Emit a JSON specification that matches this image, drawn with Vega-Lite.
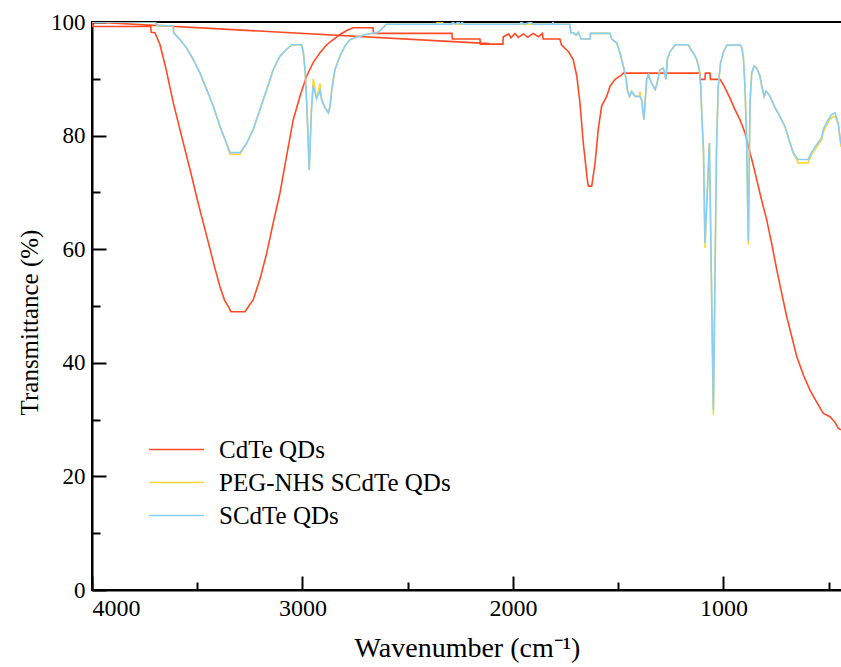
{
 "$schema": "https://vega.github.io/schema/vega-lite/v6.json",
 "width": 750, "height": 568,
 "autosize": "none",
 "padding": {"left": 92, "top": 22, "right": 0, "bottom": 77},
 "background": "white",
 "config": {"font": "Liberation Serif", "view": {"stroke": "black", "strokeWidth": 2}, "axis": {"labelFont": "Liberation Serif", "titleFont": "Liberation Serif"}, "legend": {"labelFont": "Liberation Serif"}},
 "data": {"values": [
{"s":"CdTe QDs","w":2110,"t":96.2},{"s":"CdTe QDs","w":4000,"t":100},{"s":"CdTe QDs","w":3996,"t":99.2},{"s":"CdTe QDs","w":3721,"t":99.2},{"s":"CdTe QDs","w":3719,"t":98.2},{"s":"CdTe QDs","w":3701,"t":98.1},{"s":"CdTe QDs","w":3677,"t":96},{"s":"CdTe QDs","w":3650,"t":92},{"s":"CdTe QDs","w":3614,"t":85.8},{"s":"CdTe QDs","w":3575,"t":80},{"s":"CdTe QDs","w":3534,"t":74},{"s":"CdTe QDs","w":3495,"t":68},{"s":"CdTe QDs","w":3455,"t":62.3},{"s":"CdTe QDs","w":3420,"t":57.2},{"s":"CdTe QDs","w":3392,"t":53.4},{"s":"CdTe QDs","w":3370,"t":51},{"s":"CdTe QDs","w":3352,"t":49.9},{"s":"CdTe QDs","w":3340,"t":49},{"s":"CdTe QDs","w":3273,"t":49},{"s":"CdTe QDs","w":3255,"t":50},{"s":"CdTe QDs","w":3234,"t":51.1},{"s":"CdTe QDs","w":3200,"t":55},{"s":"CdTe QDs","w":3170,"t":59.3},{"s":"CdTe QDs","w":3140,"t":64.5},{"s":"CdTe QDs","w":3107,"t":69.9},{"s":"CdTe QDs","w":3075,"t":76.5},{"s":"CdTe QDs","w":3044,"t":82.8},{"s":"CdTe QDs","w":3010,"t":87.2},{"s":"CdTe QDs","w":2980,"t":90.5},{"s":"CdTe QDs","w":2950,"t":92.8},{"s":"CdTe QDs","w":2917,"t":94.6},{"s":"CdTe QDs","w":2885,"t":96},{"s":"CdTe QDs","w":2854,"t":96.9},{"s":"CdTe QDs","w":2822,"t":97.8},{"s":"CdTe QDs","w":2790,"t":98.5},{"s":"CdTe QDs","w":2760,"t":99},{"s":"CdTe QDs","w":2665,"t":99},{"s":"CdTe QDs","w":2663,"t":98},{"s":"CdTe QDs","w":2290,"t":98},{"s":"CdTe QDs","w":2288,"t":97},{"s":"CdTe QDs","w":2157,"t":97},{"s":"CdTe QDs","w":2155,"t":96.1},{"s":"CdTe QDs","w":2048,"t":96.1},{"s":"CdTe QDs","w":2046,"t":97.4},{"s":"CdTe QDs","w":2020,"t":97.9},{"s":"CdTe QDs","w":2010,"t":97.2},{"s":"CdTe QDs","w":1990,"t":98},{"s":"CdTe QDs","w":1975,"t":97.3},{"s":"CdTe QDs","w":1950,"t":97.9},{"s":"CdTe QDs","w":1930,"t":97.3},{"s":"CdTe QDs","w":1905,"t":98},{"s":"CdTe QDs","w":1880,"t":97.4},{"s":"CdTe QDs","w":1860,"t":98},{"s":"CdTe QDs","w":1857,"t":97},{"s":"CdTe QDs","w":1777,"t":97},{"s":"CdTe QDs","w":1770,"t":96},{"s":"CdTe QDs","w":1737,"t":94.8},{"s":"CdTe QDs","w":1714,"t":93.4},{"s":"CdTe QDs","w":1697,"t":90.5},{"s":"CdTe QDs","w":1682,"t":85.8},{"s":"CdTe QDs","w":1666,"t":78.7},{"s":"CdTe QDs","w":1647,"t":72.2},{"s":"CdTe QDs","w":1642,"t":71.1},{"s":"CdTe QDs","w":1626,"t":71.1},{"s":"CdTe QDs","w":1610,"t":75.2},{"s":"CdTe QDs","w":1595,"t":81.1},{"s":"CdTe QDs","w":1579,"t":85.2},{"s":"CdTe QDs","w":1555,"t":86.9},{"s":"CdTe QDs","w":1539,"t":88.7},{"s":"CdTe QDs","w":1515,"t":89.9},{"s":"CdTe QDs","w":1484,"t":90.7},{"s":"CdTe QDs","w":1476,"t":91},{"s":"CdTe QDs","w":1112,"t":91},{"s":"CdTe QDs","w":1110,"t":89.9},{"s":"CdTe QDs","w":1088,"t":89.9},{"s":"CdTe QDs","w":1086,"t":91},{"s":"CdTe QDs","w":1064,"t":91},{"s":"CdTe QDs","w":1062,"t":89.9},{"s":"CdTe QDs","w":1017,"t":89.9},{"s":"CdTe QDs","w":1001,"t":89},{"s":"CdTe QDs","w":985,"t":87.8},{"s":"CdTe QDs","w":969,"t":86.6},{"s":"CdTe QDs","w":946,"t":84.6},{"s":"CdTe QDs","w":922,"t":82.8},{"s":"CdTe QDs","w":898,"t":80.5},{"s":"CdTe QDs","w":882,"t":78.1},{"s":"CdTe QDs","w":862,"t":75.3},{"s":"CdTe QDs","w":842,"t":72.2},{"s":"CdTe QDs","w":820,"t":68.8},{"s":"CdTe QDs","w":795,"t":65.2},{"s":"CdTe QDs","w":770,"t":60.8},{"s":"CdTe QDs","w":747,"t":56.4},{"s":"CdTe QDs","w":722,"t":52},{"s":"CdTe QDs","w":700,"t":48.2},{"s":"CdTe QDs","w":675,"t":44.5},{"s":"CdTe QDs","w":652,"t":41.1},{"s":"CdTe QDs","w":620,"t":37.8},{"s":"CdTe QDs","w":589,"t":35.2},{"s":"CdTe QDs","w":556,"t":33},{"s":"CdTe QDs","w":526,"t":31.1},{"s":"CdTe QDs","w":494,"t":30.5},{"s":"CdTe QDs","w":470,"t":29.5},{"s":"CdTe QDs","w":455,"t":28.5},{"s":"CdTe QDs","w":442,"t":28.2},
{"s":"PEG-NHS SCdTe QDs","w":4000,"t":100},{"s":"PEG-NHS SCdTe QDs","w":3700,"t":100},{"s":"PEG-NHS SCdTe QDs","w":3690,"t":99.4},{"s":"PEG-NHS SCdTe QDs","w":3614,"t":99.3},{"s":"PEG-NHS SCdTe QDs","w":3612,"t":98.1},{"s":"PEG-NHS SCdTe QDs","w":3582,"t":96.9},{"s":"PEG-NHS SCdTe QDs","w":3550,"t":95.4},{"s":"PEG-NHS SCdTe QDs","w":3519,"t":93.4},{"s":"PEG-NHS SCdTe QDs","w":3487,"t":91},{"s":"PEG-NHS SCdTe QDs","w":3455,"t":88.1},{"s":"PEG-NHS SCdTe QDs","w":3424,"t":85.2},{"s":"PEG-NHS SCdTe QDs","w":3392,"t":81.6},{"s":"PEG-NHS SCdTe QDs","w":3368,"t":79.3},{"s":"PEG-NHS SCdTe QDs","w":3344,"t":76.7},{"s":"PEG-NHS SCdTe QDs","w":3297,"t":76.7},{"s":"PEG-NHS SCdTe QDs","w":3265,"t":78.7},{"s":"PEG-NHS SCdTe QDs","w":3234,"t":81.1},{"s":"PEG-NHS SCdTe QDs","w":3202,"t":84.6},{"s":"PEG-NHS SCdTe QDs","w":3170,"t":88.1},{"s":"PEG-NHS SCdTe QDs","w":3139,"t":91.6},{"s":"PEG-NHS SCdTe QDs","w":3107,"t":94},{"s":"PEG-NHS SCdTe QDs","w":3075,"t":95.2},{"s":"PEG-NHS SCdTe QDs","w":3051,"t":96},{"s":"PEG-NHS SCdTe QDs","w":3004,"t":96},{"s":"PEG-NHS SCdTe QDs","w":2996,"t":94.6},{"s":"PEG-NHS SCdTe QDs","w":2988,"t":91.6},{"s":"PEG-NHS SCdTe QDs","w":2980,"t":85.8},{"s":"PEG-NHS SCdTe QDs","w":2968,"t":74},{"s":"PEG-NHS SCdTe QDs","w":2958,"t":84.5},{"s":"PEG-NHS SCdTe QDs","w":2949,"t":90},{"s":"PEG-NHS SCdTe QDs","w":2933,"t":86.5},{"s":"PEG-NHS SCdTe QDs","w":2917,"t":89.2},{"s":"PEG-NHS SCdTe QDs","w":2909,"t":86.3},{"s":"PEG-NHS SCdTe QDs","w":2893,"t":84.9},{"s":"PEG-NHS SCdTe QDs","w":2877,"t":84},{"s":"PEG-NHS SCdTe QDs","w":2869,"t":85.2},{"s":"PEG-NHS SCdTe QDs","w":2861,"t":88.1},{"s":"PEG-NHS SCdTe QDs","w":2846,"t":91.6},{"s":"PEG-NHS SCdTe QDs","w":2822,"t":94},{"s":"PEG-NHS SCdTe QDs","w":2798,"t":95.8},{"s":"PEG-NHS SCdTe QDs","w":2774,"t":96.9},{"s":"PEG-NHS SCdTe QDs","w":2743,"t":97.3},{"s":"PEG-NHS SCdTe QDs","w":2700,"t":97.8},{"s":"PEG-NHS SCdTe QDs","w":2640,"t":98.2},{"s":"PEG-NHS SCdTe QDs","w":2600,"t":99.6},{"s":"PEG-NHS SCdTe QDs","w":2362,"t":99.6},{"s":"PEG-NHS SCdTe QDs","w":2360,"t":100},{"s":"PEG-NHS SCdTe QDs","w":2335,"t":100},{"s":"PEG-NHS SCdTe QDs","w":2333,"t":99.6},{"s":"PEG-NHS SCdTe QDs","w":2290,"t":99.6},{"s":"PEG-NHS SCdTe QDs","w":2287,"t":100},{"s":"PEG-NHS SCdTe QDs","w":2275,"t":99.6},{"s":"PEG-NHS SCdTe QDs","w":1730,"t":99.6},{"s":"PEG-NHS SCdTe QDs","w":1725,"t":98.1},{"s":"PEG-NHS SCdTe QDs","w":1714,"t":98.1},{"s":"PEG-NHS SCdTe QDs","w":1700,"t":97.7},{"s":"PEG-NHS SCdTe QDs","w":1690,"t":98.2},{"s":"PEG-NHS SCdTe QDs","w":1676,"t":97},{"s":"PEG-NHS SCdTe QDs","w":1634,"t":97},{"s":"PEG-NHS SCdTe QDs","w":1632,"t":98},{"s":"PEG-NHS SCdTe QDs","w":1539,"t":98},{"s":"PEG-NHS SCdTe QDs","w":1531,"t":97},{"s":"PEG-NHS SCdTe QDs","w":1507,"t":96.3},{"s":"PEG-NHS SCdTe QDs","w":1492,"t":94.6},{"s":"PEG-NHS SCdTe QDs","w":1476,"t":92.2},{"s":"PEG-NHS SCdTe QDs","w":1463,"t":90.1},{"s":"PEG-NHS SCdTe QDs","w":1457,"t":88.1},{"s":"PEG-NHS SCdTe QDs","w":1447,"t":86.9},{"s":"PEG-NHS SCdTe QDs","w":1436,"t":87.8},{"s":"PEG-NHS SCdTe QDs","w":1420,"t":86.9},{"s":"PEG-NHS SCdTe QDs","w":1400,"t":86.9},{"s":"PEG-NHS SCdTe QDs","w":1397,"t":87.8},{"s":"PEG-NHS SCdTe QDs","w":1394,"t":86.9},{"s":"PEG-NHS SCdTe QDs","w":1389,"t":86.3},{"s":"PEG-NHS SCdTe QDs","w":1378,"t":82.8},{"s":"PEG-NHS SCdTe QDs","w":1365,"t":89.9},{"s":"PEG-NHS SCdTe QDs","w":1357,"t":90.7},{"s":"PEG-NHS SCdTe QDs","w":1341,"t":89.2},{"s":"PEG-NHS SCdTe QDs","w":1325,"t":88.1},{"s":"PEG-NHS SCdTe QDs","w":1317,"t":89},{"s":"PEG-NHS SCdTe QDs","w":1302,"t":91.6},{"s":"PEG-NHS SCdTe QDs","w":1286,"t":91.9},{"s":"PEG-NHS SCdTe QDs","w":1273,"t":89.9},{"s":"PEG-NHS SCdTe QDs","w":1267,"t":93.4},{"s":"PEG-NHS SCdTe QDs","w":1254,"t":94.8},{"s":"PEG-NHS SCdTe QDs","w":1235,"t":95.7},{"s":"PEG-NHS SCdTe QDs","w":1230,"t":96},{"s":"PEG-NHS SCdTe QDs","w":1167,"t":96},{"s":"PEG-NHS SCdTe QDs","w":1159,"t":95.4},{"s":"PEG-NHS SCdTe QDs","w":1143,"t":94.5},{"s":"PEG-NHS SCdTe QDs","w":1127,"t":93.4},{"s":"PEG-NHS SCdTe QDs","w":1115,"t":91.6},{"s":"PEG-NHS SCdTe QDs","w":1108,"t":88.7},{"s":"PEG-NHS SCdTe QDs","w":1102,"t":82.8},{"s":"PEG-NHS SCdTe QDs","w":1095,"t":77.5},{"s":"PEG-NHS SCdTe QDs","w":1088,"t":60.2},{"s":"PEG-NHS SCdTe QDs","w":1067,"t":78.7},{"s":"PEG-NHS SCdTe QDs","w":1048,"t":30.8},{"s":"PEG-NHS SCdTe QDs","w":1033,"t":78.1},{"s":"PEG-NHS SCdTe QDs","w":1025,"t":88.7},{"s":"PEG-NHS SCdTe QDs","w":1014,"t":92.8},{"s":"PEG-NHS SCdTe QDs","w":1001,"t":94.6},{"s":"PEG-NHS SCdTe QDs","w":985,"t":95.9},{"s":"PEG-NHS SCdTe QDs","w":922,"t":96},{"s":"PEG-NHS SCdTe QDs","w":914,"t":95.6},{"s":"PEG-NHS SCdTe QDs","w":906,"t":94},{"s":"PEG-NHS SCdTe QDs","w":898,"t":88.7},{"s":"PEG-NHS SCdTe QDs","w":891,"t":80.5},{"s":"PEG-NHS SCdTe QDs","w":882,"t":60.8},{"s":"PEG-NHS SCdTe QDs","w":874,"t":85.8},{"s":"PEG-NHS SCdTe QDs","w":866,"t":91},{"s":"PEG-NHS SCdTe QDs","w":855,"t":92.2},{"s":"PEG-NHS SCdTe QDs","w":842,"t":91.9},{"s":"PEG-NHS SCdTe QDs","w":827,"t":90.5},{"s":"PEG-NHS SCdTe QDs","w":818,"t":88.7},{"s":"PEG-NHS SCdTe QDs","w":807,"t":86.9},{"s":"PEG-NHS SCdTe QDs","w":798,"t":87.8},{"s":"PEG-NHS SCdTe QDs","w":790,"t":87.5},{"s":"PEG-NHS SCdTe QDs","w":779,"t":86.9},{"s":"PEG-NHS SCdTe QDs","w":755,"t":84.9},{"s":"PEG-NHS SCdTe QDs","w":732,"t":83.4},{"s":"PEG-NHS SCdTe QDs","w":708,"t":81.6},{"s":"PEG-NHS SCdTe QDs","w":684,"t":78.7},{"s":"PEG-NHS SCdTe QDs","w":669,"t":77},{"s":"PEG-NHS SCdTe QDs","w":645,"t":75.2},{"s":"PEG-NHS SCdTe QDs","w":598,"t":75.2},{"s":"PEG-NHS SCdTe QDs","w":582,"t":76.6},{"s":"PEG-NHS SCdTe QDs","w":558,"t":78},{"s":"PEG-NHS SCdTe QDs","w":534,"t":79.2},{"s":"PEG-NHS SCdTe QDs","w":526,"t":80.6},{"s":"PEG-NHS SCdTe QDs","w":503,"t":82.4},{"s":"PEG-NHS SCdTe QDs","w":487,"t":83.2},{"s":"PEG-NHS SCdTe QDs","w":470,"t":83.4},{"s":"PEG-NHS SCdTe QDs","w":455,"t":82},{"s":"PEG-NHS SCdTe QDs","w":442,"t":78},
{"s":"SCdTe QDs","w":4000,"t":100},{"s":"SCdTe QDs","w":3700,"t":100},{"s":"SCdTe QDs","w":3690,"t":99.4},{"s":"SCdTe QDs","w":3614,"t":99.3},{"s":"SCdTe QDs","w":3612,"t":98.1},{"s":"SCdTe QDs","w":3582,"t":96.9},{"s":"SCdTe QDs","w":3550,"t":95.4},{"s":"SCdTe QDs","w":3519,"t":93.4},{"s":"SCdTe QDs","w":3487,"t":91},{"s":"SCdTe QDs","w":3455,"t":88.1},{"s":"SCdTe QDs","w":3424,"t":85.2},{"s":"SCdTe QDs","w":3392,"t":81.6},{"s":"SCdTe QDs","w":3368,"t":79.3},{"s":"SCdTe QDs","w":3344,"t":77},{"s":"SCdTe QDs","w":3297,"t":77},{"s":"SCdTe QDs","w":3265,"t":78.7},{"s":"SCdTe QDs","w":3234,"t":81.1},{"s":"SCdTe QDs","w":3202,"t":84.6},{"s":"SCdTe QDs","w":3170,"t":88.1},{"s":"SCdTe QDs","w":3139,"t":91.6},{"s":"SCdTe QDs","w":3107,"t":94},{"s":"SCdTe QDs","w":3075,"t":95.2},{"s":"SCdTe QDs","w":3051,"t":96},{"s":"SCdTe QDs","w":3004,"t":96},{"s":"SCdTe QDs","w":2996,"t":94.6},{"s":"SCdTe QDs","w":2988,"t":91.6},{"s":"SCdTe QDs","w":2980,"t":85.8},{"s":"SCdTe QDs","w":2968,"t":74},{"s":"SCdTe QDs","w":2958,"t":84},{"s":"SCdTe QDs","w":2949,"t":88.8},{"s":"SCdTe QDs","w":2933,"t":86.5},{"s":"SCdTe QDs","w":2917,"t":88},{"s":"SCdTe QDs","w":2909,"t":86.3},{"s":"SCdTe QDs","w":2893,"t":84.9},{"s":"SCdTe QDs","w":2877,"t":84},{"s":"SCdTe QDs","w":2869,"t":85.2},{"s":"SCdTe QDs","w":2861,"t":88.1},{"s":"SCdTe QDs","w":2846,"t":91.6},{"s":"SCdTe QDs","w":2822,"t":94},{"s":"SCdTe QDs","w":2798,"t":95.8},{"s":"SCdTe QDs","w":2774,"t":96.9},{"s":"SCdTe QDs","w":2743,"t":97.3},{"s":"SCdTe QDs","w":2700,"t":97.8},{"s":"SCdTe QDs","w":2640,"t":98.2},{"s":"SCdTe QDs","w":2600,"t":99.6},{"s":"SCdTe QDs","w":2290,"t":99.6},{"s":"SCdTe QDs","w":2287,"t":100},{"s":"SCdTe QDs","w":2275,"t":99.6},{"s":"SCdTe QDs","w":2260,"t":100},{"s":"SCdTe QDs","w":2250,"t":99.6},{"s":"SCdTe QDs","w":2240,"t":100},{"s":"SCdTe QDs","w":2236,"t":99.6},{"s":"SCdTe QDs","w":1967,"t":99.6},{"s":"SCdTe QDs","w":1962,"t":100},{"s":"SCdTe QDs","w":1945,"t":99.6},{"s":"SCdTe QDs","w":1915,"t":100},{"s":"SCdTe QDs","w":1905,"t":99.6},{"s":"SCdTe QDs","w":1812,"t":99.6},{"s":"SCdTe QDs","w":1810,"t":100},{"s":"SCdTe QDs","w":1806,"t":99.6},{"s":"SCdTe QDs","w":1730,"t":99.6},{"s":"SCdTe QDs","w":1725,"t":98.1},{"s":"SCdTe QDs","w":1714,"t":98.1},{"s":"SCdTe QDs","w":1700,"t":97.7},{"s":"SCdTe QDs","w":1690,"t":98.2},{"s":"SCdTe QDs","w":1676,"t":97},{"s":"SCdTe QDs","w":1634,"t":97},{"s":"SCdTe QDs","w":1632,"t":98},{"s":"SCdTe QDs","w":1539,"t":98},{"s":"SCdTe QDs","w":1531,"t":97},{"s":"SCdTe QDs","w":1507,"t":96.3},{"s":"SCdTe QDs","w":1492,"t":94.6},{"s":"SCdTe QDs","w":1476,"t":92.2},{"s":"SCdTe QDs","w":1463,"t":90.1},{"s":"SCdTe QDs","w":1457,"t":88.1},{"s":"SCdTe QDs","w":1447,"t":86.9},{"s":"SCdTe QDs","w":1436,"t":87.8},{"s":"SCdTe QDs","w":1420,"t":86.9},{"s":"SCdTe QDs","w":1397,"t":86.9},{"s":"SCdTe QDs","w":1389,"t":86.3},{"s":"SCdTe QDs","w":1378,"t":82.8},{"s":"SCdTe QDs","w":1365,"t":89.9},{"s":"SCdTe QDs","w":1357,"t":90.7},{"s":"SCdTe QDs","w":1341,"t":89.2},{"s":"SCdTe QDs","w":1325,"t":88.1},{"s":"SCdTe QDs","w":1317,"t":89},{"s":"SCdTe QDs","w":1302,"t":91.6},{"s":"SCdTe QDs","w":1286,"t":91.9},{"s":"SCdTe QDs","w":1273,"t":89.9},{"s":"SCdTe QDs","w":1267,"t":93.4},{"s":"SCdTe QDs","w":1254,"t":94.8},{"s":"SCdTe QDs","w":1235,"t":95.7},{"s":"SCdTe QDs","w":1230,"t":96},{"s":"SCdTe QDs","w":1167,"t":96},{"s":"SCdTe QDs","w":1159,"t":95.4},{"s":"SCdTe QDs","w":1143,"t":94.5},{"s":"SCdTe QDs","w":1127,"t":93.4},{"s":"SCdTe QDs","w":1115,"t":91.6},{"s":"SCdTe QDs","w":1108,"t":88.7},{"s":"SCdTe QDs","w":1102,"t":82.8},{"s":"SCdTe QDs","w":1095,"t":77.5},{"s":"SCdTe QDs","w":1088,"t":61.1},{"s":"SCdTe QDs","w":1067,"t":78.7},{"s":"SCdTe QDs","w":1048,"t":31.7},{"s":"SCdTe QDs","w":1033,"t":78.1},{"s":"SCdTe QDs","w":1025,"t":88.7},{"s":"SCdTe QDs","w":1014,"t":92.8},{"s":"SCdTe QDs","w":1001,"t":94.6},{"s":"SCdTe QDs","w":985,"t":95.9},{"s":"SCdTe QDs","w":922,"t":96},{"s":"SCdTe QDs","w":914,"t":95.6},{"s":"SCdTe QDs","w":906,"t":94},{"s":"SCdTe QDs","w":898,"t":88.7},{"s":"SCdTe QDs","w":891,"t":80.5},{"s":"SCdTe QDs","w":882,"t":61.5},{"s":"SCdTe QDs","w":874,"t":85.8},{"s":"SCdTe QDs","w":866,"t":91},{"s":"SCdTe QDs","w":855,"t":92.2},{"s":"SCdTe QDs","w":842,"t":91.9},{"s":"SCdTe QDs","w":827,"t":90.5},{"s":"SCdTe QDs","w":818,"t":88.7},{"s":"SCdTe QDs","w":807,"t":86.9},{"s":"SCdTe QDs","w":798,"t":87.8},{"s":"SCdTe QDs","w":790,"t":87.5},{"s":"SCdTe QDs","w":779,"t":86.9},{"s":"SCdTe QDs","w":755,"t":84.9},{"s":"SCdTe QDs","w":732,"t":83.4},{"s":"SCdTe QDs","w":708,"t":81.6},{"s":"SCdTe QDs","w":684,"t":78.7},{"s":"SCdTe QDs","w":669,"t":77},{"s":"SCdTe QDs","w":645,"t":75.8},{"s":"SCdTe QDs","w":598,"t":75.8},{"s":"SCdTe QDs","w":582,"t":77},{"s":"SCdTe QDs","w":558,"t":78.4},{"s":"SCdTe QDs","w":534,"t":79.6},{"s":"SCdTe QDs","w":526,"t":81.1},{"s":"SCdTe QDs","w":503,"t":82.8},{"s":"SCdTe QDs","w":487,"t":83.7},{"s":"SCdTe QDs","w":470,"t":84},{"s":"SCdTe QDs","w":455,"t":82.2},{"s":"SCdTe QDs","w":442,"t":78.5}
 ]},
 "mark": {"type": "line", "strokeWidth": 1.6, "clip": true},
 "encoding": {
  "x": {"field": "w", "type": "quantitative",
   "scale": {"domain": [4000, 437], "nice": false, "zero": false},
   "axis": {"values": [4000, 3500, 3000, 2500, 2000, 1500, 1000, 500],
    "labelExpr": "datum.value % 1000 === 0 ? '' + datum.value : ''",
    "tickSize": {"condition": {"test": "datum.value % 1000 === 0", "value": -14}, "value": -8},
    "tickColor": "black", "tickWidth": 2, "domainColor": "black", "domainWidth": 2,
    "labelFont": "Liberation Serif", "labelFontSize": 24, "labelColor": "black", "labelPadding": 20, "grid": false,
    "title": "Wavenumber (cm⁻¹)", "titleFont": "Liberation Serif", "titleFontSize": 28, "titleFontWeight": "normal", "titleColor": "black", "titlePadding": 14}},
  "y": {"field": "t", "type": "quantitative",
   "scale": {"domain": [0, 100], "nice": false},
   "axis": {"values": [0, 10, 20, 30, 40, 50, 60, 70, 80, 90, 100],
    "labelExpr": "datum.value % 20 === 0 ? '' + datum.value : ''",
    "tickSize": {"condition": {"test": "datum.value % 20 === 0", "value": -14}, "value": -8},
    "tickColor": "black", "tickWidth": 2, "domainColor": "black", "domainWidth": 2,
    "labelFont": "Liberation Serif", "labelFontSize": 23, "labelColor": "black", "labelPadding": 21, "grid": false,
    "title": "Transmittance (%)", "titleFont": "Liberation Serif", "titleFontSize": 25, "titleFontWeight": "normal", "titleColor": "black", "titlePadding": 8, "titleY": 300}},
  "color": {"field": "s", "type": "nominal",
   "scale": {"domain": ["CdTe QDs", "PEG-NHS SCdTe QDs", "SCdTe QDs"], "range": ["#ff4a26", "#ffd633", "#87cefa"]},
   "legend": {"orient": "none", "legendX": 70, "legendY": 413, "title": null, "symbolType": "M-2,0L2,0", "symbolSize": 756, "symbolStrokeWidth": 1.5, "labelFont": "Liberation Serif", "labelFontSize": 25, "labelOffset": 28, "rowPadding": 5, "labelColor": "black", "labelLimit": 500, "padding": 0}},
  "order": {"value": null}
 }
}
